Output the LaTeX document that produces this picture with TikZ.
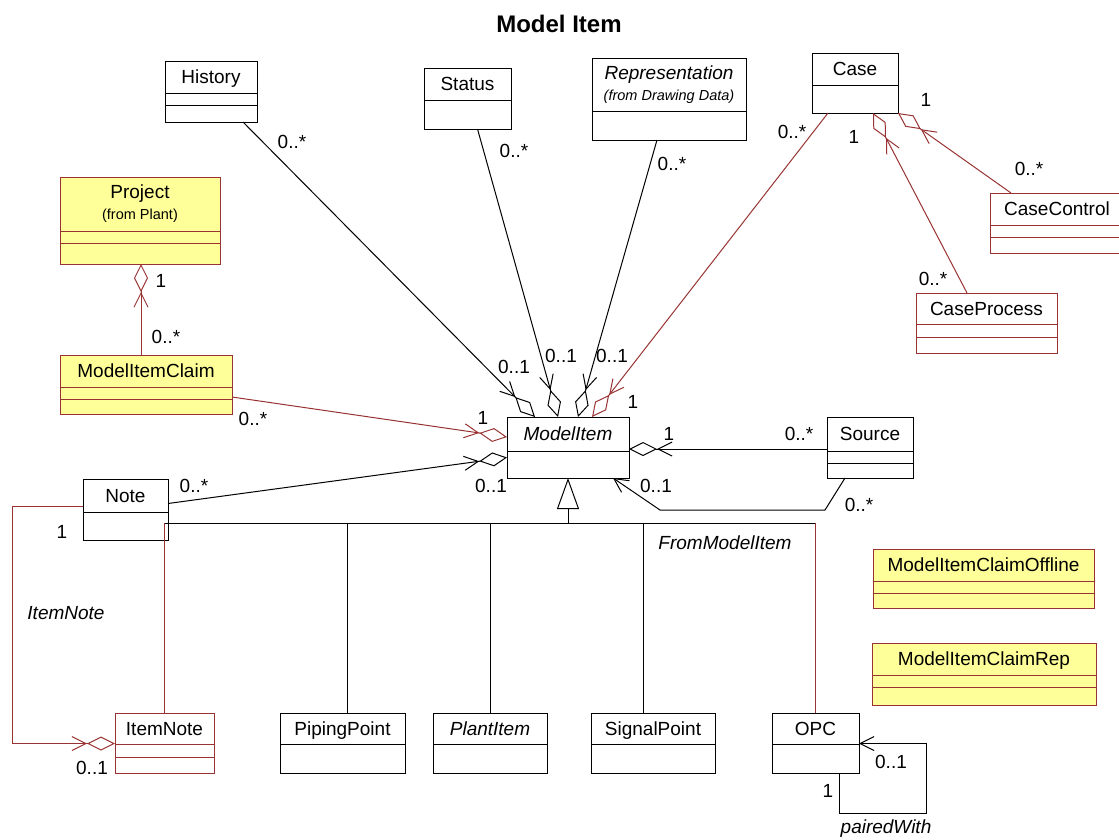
\documentclass[tikz,border=0pt]{standalone}
\usepackage{fontspec}
\setmainfont{Liberation Sans}
\usetikzlibrary{arrows.meta,positioning}

\definecolor{rosered}{HTML}{993333}
\definecolor{claimyellow}{HTML}{FFFF99}
\newcommand{\smallfont}{\fontsize{14.5}{16}\selectfont}

\begin{document}
\begin{tikzpicture}[
			x=1pt, y=-1pt,
			line width=1pt,
			font=\fontsize{19}{22}\selectfont,
			cls/.style={draw, inner sep=0pt, outer sep=0pt},
			rcls/.style={cls, draw=rosered},
			ycls/.style={rcls, fill=claimyellow},
			cname/.style={text height=13.6pt, text depth=0pt},
			lbl/.style={inner sep=0pt},
			agg/.style={-{Straight Barb[length=14pt,width=14pt] Diamond[open,length=28pt,width=14pt]}},
			nav/.style={-{Straight Barb[length=14pt,width=14pt]}},
			inherit/.style={-{Triangle[open,length=31pt,width=22pt]}},
		]
			\useasboundingbox (0,0) rectangle (1119,839);

			\node[font=\fontsize{24}{28}\selectfont\bfseries] (title) at (559,23.5) {Model Item};

			\node[cls, cname, minimum width=92, minimum height=32] (history) at (211,77) {History};
			\node[cls, minimum width=92, minimum height=12, below=0pt of history] (history-a) {};
			\node[cls, minimum width=92, minimum height=17, below=0pt of history-a] (history-o) {};

			\node[cls, cname, minimum width=87, minimum height=32] (status) at (467.5,84) {Status};
			\node[cls, minimum width=87, minimum height=29, below=0pt of status] (status-o) {};

			\node[cls, align=center, minimum width=154, minimum height=53] (repr) at (669,84.5) {\textit{Representation}\\[-1pt]{\smallfont\itshape (from Drawing Data)}};
			\node[cls, minimum width=154, minimum height=29, below=0pt of repr] (repr-o) {};

			\node[cls, cname, minimum width=86, minimum height=32] (case) at (855,69) {Case};
			\node[cls, minimum width=86, minimum height=28, below=0pt of case] (case-o) {};

			\node[rcls, cname, minimum width=134, minimum height=32] (cctl) at (1057,209) {CaseControl};
			\node[rcls, minimum width=134, minimum height=12, below=0pt of cctl] (cctl-a) {};
			\node[rcls, minimum width=134, minimum height=16, below=0pt of cctl-a] (cctl-o) {};

			\node[rcls, cname, minimum width=141, minimum height=31] (cproc) at (986.5,308.5) {CaseProcess};
			\node[rcls, minimum width=141, minimum height=13, below=0pt of cproc] (cproc-a) {};
			\node[rcls, minimum width=141, minimum height=16, below=0pt of cproc-a] (cproc-o) {};

			\node[ycls, align=center, minimum width=160, minimum height=54] (project) at (140,204) {Project\\[-1pt]{\smallfont (from Plant)}};
			\node[ycls, minimum width=160, minimum height=12, below=0pt of project] (project-a) {};
			\node[ycls, minimum width=160, minimum height=21, below=0pt of project-a] (project-o) {};

			\node[ycls, cname, minimum width=172, minimum height=32] (mic) at (146,371) {ModelItemClaim};
			\node[ycls, minimum width=172, minimum height=12, below=0pt of mic] (mic-a) {};
			\node[ycls, minimum width=172, minimum height=15, below=0pt of mic-a] (mic-o) {};

			\node[cls, cname, minimum width=85, minimum height=33] (note) at (125.5,495.5) {Note};
			\node[cls, minimum width=85, minimum height=28, below=0pt of note] (note-o) {};

			\node[cls, cname, minimum width=122, minimum height=34] (mi) at (568,434) {\itshape ModelItem};
			\node[cls, minimum width=122, minimum height=27, below=0pt of mi] (mi-o) {};

			\node[cls, cname, minimum width=86, minimum height=34] (src) at (870,434) {Source};
			\node[cls, minimum width=86, minimum height=12, below=0pt of src] (src-a) {};
			\node[cls, minimum width=86, minimum height=15, below=0pt of src-a] (src-o) {};

			\node[rcls, cname, minimum width=99, minimum height=31] (itemnote) at (164.5,728.5) {ItemNote};
			\node[rcls, minimum width=99, minimum height=13, below=0pt of itemnote] (itemnote-a) {};
			\node[rcls, minimum width=99, minimum height=16, below=0pt of itemnote-a] (itemnote-o) {};

			\node[cls, cname, minimum width=125, minimum height=31, right=66pt of itemnote] (piping) {PipingPoint};
			\node[cls, minimum width=125, minimum height=29, below=0pt of piping] (piping-o) {};

			\node[cls, cname, minimum width=114, minimum height=31, right=28pt of piping] (plant) {\itshape PlantItem};
			\node[cls, minimum width=114, minimum height=29, below=0pt of plant] (plant-o) {};

			\node[cls, cname, minimum width=124, minimum height=31, right=44pt of plant] (signal) {SignalPoint};
			\node[cls, minimum width=124, minimum height=29, below=0pt of signal] (signal-o) {};

			\node[cls, cname, minimum width=87, minimum height=31, right=57pt of signal] (opc) {OPC};
			\node[cls, minimum width=87, minimum height=29, below=0pt of opc] (opc-o) {};

			\node[ycls, cname, minimum width=221, minimum height=32] (offline) at (983.5,565) {ModelItemClaimOffline};
			\node[ycls, minimum width=221, minimum height=12, below=0pt of offline] (offline-a) {};
			\node[ycls, minimum width=221, minimum height=15, below=0pt of offline-a] (offline-o) {};

			\node[ycls, cname, minimum width=224, minimum height=32] (rep) at (984,659) {ModelItemClaimRep};
			\node[ycls, minimum width=224, minimum height=12, below=0pt of rep] (rep-a) {};
			\node[ycls, minimum width=224, minimum height=18, below=0pt of rep-a] (rep-o) {};

			\draw[agg] ([xshift=32]history-o.south) -- ([xshift=-33]mi.north);
			\draw[agg] ([xshift=10]status-o.south) -- ([xshift=-10]mi.north);
			\draw[agg] ([xshift=-12]repr-o.south) -- ([xshift=10]mi.north);
			\draw[agg, rosered] ([xshift=-27]case-o.south) -- ([xshift=24]mi.north);
			\draw[agg, rosered] ([yshift=-4]mic-a.east) -- ([yshift=-3]mi.west);
			\draw[agg] ([yshift=-8]note.east) -- ([yshift=7]mi-o.west);
			\draw[agg] ([yshift=-15]src.west) -- ([yshift=-15]mi.east);
			\draw[nav] ([xshift=-25]src-o.south) -- ++(-20,32) -- ++(-165,0) -- ([xshift=45]mi-o.south);

			\draw[agg, rosered] ([xshift=-46]cctl.north) -- (case-o.south east);
			\draw[agg, rosered] ([xshift=-19.5]cproc.north) -- ([xshift=18]case-o.south);
			\draw[agg, rosered] ([xshift=-5]mic.north) -- ([xshift=1]project-o.south);
			\draw[agg, rosered] ([yshift=-11]note.west) -- ++(-71,0) |- ([yshift=-15]itemnote.west);
			\draw[nav] ([xshift=24]opc-o.south) -- ++(0,40) -- ++(87,0) |- ([yshift=-15]opc.east);

			\coordinate[below=45pt of mi-o.south] (bus);
			\draw[inherit] (bus) -- (mi-o.south);
			\draw (itemnote |- bus) -- (opc |- bus);
			\draw ([xshift=5]piping.north) -- ([xshift=5]piping.north |- bus);
			\draw (plant.north) -- (plant |- bus);
			\draw ([xshift=-10]signal.north) -- ([xshift=-10]signal.north |- bus);
			\draw[rosered] (itemnote.north) -- (itemnote |- bus);
			\draw[rosered] (opc.north) -- (opc |- bus);

			\node[lbl] (history-many) at (292,142) {0..*};
			\node[lbl] (history-one) at (514,367) {0..1};
			\node[lbl] (status-many) at (514,151) {0..*};
			\node[lbl] (status-one) at (561,356) {0..1};
			\node[lbl] (repr-many) at (672,164) {0..*};
			\node[lbl] (repr-one) at (612,356) {0..1};
			\node[lbl] (case-many) at (792,132) {0..*};
			\node[lbl] (case-one) at (633,402) {1};
			\node[lbl] (cctl-one) at (926,100) {1};
			\node[lbl] (cctl-many) at (1029,169) {0..*};
			\node[lbl] (cproc-one) at (854,137) {1};
			\node[lbl] (cproc-many) at (933,279) {0..*};
			\node[lbl] (project-one) at (161,281) {1};
			\node[lbl] (mic-many) at (166,337) {0..*};
			\node[lbl] (mic-mi-many) at (253,419) {0..*};
			\node[lbl] (mic-mi-one) at (483,418) {1};
			\node[lbl] (note-many) at (194,486) {0..*};
			\node[lbl] (note-one) at (491,486) {0..1};
			\node[lbl] (src-one) at (669,434) {1};
			\node[lbl] (src-many) at (799,434) {0..*};
			\node[lbl] (from-one) at (656,486) {0..1};
			\node[lbl] (from-many) at (859,505) {0..*};
			\node[lbl] (from-role) at (725,543) {\itshape FromModelItem};
			\node[lbl] (itemnote-one) at (62,532) {1};
			\node[lbl] (itemnote-opt) at (92,768) {0..1};
			\node[lbl] (itemnote-role) at (66,613) {\itshape ItemNote};
			\node[lbl] (paired-one) at (828,791) {1};
			\node[lbl] (paired-opt) at (891,762) {0..1};
			\node[lbl] (paired-role) at (886,829) {\itshape pairedWith};
		\end{tikzpicture}
\end{document}
